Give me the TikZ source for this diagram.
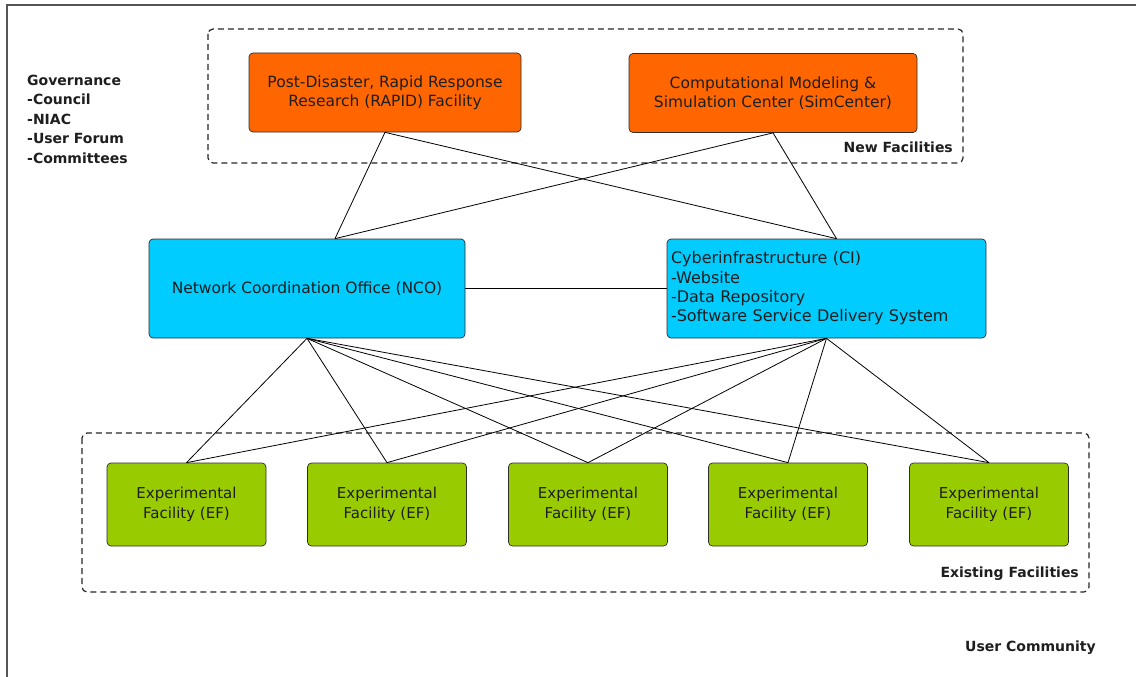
\documentclass[tikz,border=0pt]{standalone}
\usepackage{fontspec}
\setmainfont{DejaVu Sans}
\usetikzlibrary{positioning}
\definecolor{neworange}{RGB}{255, 102, 0}
\definecolor{hubcyan}{RGB}{0, 204, 255}
\definecolor{efgreen}{RGB}{153, 204, 0}
\definecolor{framegray}{RGB}{85, 85, 85}
\definecolor{edgegray}{RGB}{45, 45, 45}
\definecolor{inkgray}{RGB}{30, 30, 30}

\begin{document}
\begin{tikzpicture}[x=1pt, y=-1pt,
  facbox/.style={draw=edgegray, line width=0.7pt, rounded corners=4pt, inner sep=4pt,
    align=center, text=inkgray, font=\fontsize{15.5}{19.5}\selectfont},
  newfac/.style={facbox, fill=neworange, minimum height=79pt},
  hub/.style={facbox, fill=hubcyan, minimum height=99pt},
  expfac/.style={facbox, fill=efgreen, minimum width=159pt, minimum height=83pt,
    font=\fontsize{15}{20}\selectfont},
  groupbox/.style={draw=black!85, line width=1.2pt, dash pattern=on 6pt off 4pt, rounded corners=5pt},
  grouplabel/.style={font=\fontsize{14}{19.5}\selectfont\bfseries, text=inkgray, inner sep=0pt},
  link/.style={black, line width=0.8pt}]

  \useasboundingbox (0, 0) rectangle (1136, 677);

  % Outer frame (user community)
  \draw[framegray, line width=2pt] (7, 677) -- (7, 5) -- (1136, 5);

  % Governance
  \node[grouplabel, align=left, anchor=west] (gov) at (27, 119) {Governance\\-Council\\-NIAC\\-User Forum\\-Committees};

  % New facilities
  \draw[groupbox] (208, 29) rectangle (963, 163);
  \node[grouplabel, anchor=east] (newlbl) at (953, 147) {New Facilities};
  \node[newfac, minimum width=272pt] (rapid) at (385, 92.5) {Post-Disaster, Rapid Response\\Research (RAPID) Facility};
  \node[newfac, minimum width=288pt] (sim) at (773, 93) {Computational Modeling \&\\Simulation Center (SimCenter)};

  % Network hubs
  \node[hub, minimum width=316pt] (nco) at (307, 288.5) {Network Coordination Office (NCO)};
  \node[hub, align=left, text width=311pt, font=\fontsize{16}{19.3}\selectfont] (ci) at (826.5, 288.5) {Cyberinfrastructure (CI)\\-Website\\-Data Repository\\-Software Service Delivery System};

  % Existing facilities
  \draw[groupbox] (82, 433) rectangle (1089, 592);
  \node[grouplabel, anchor=east] (existlbl) at (1079, 574) {Existing Facilities};
  \node[expfac] (ef1) at (186.5, 504.5) {Experimental\\Facility (EF)};
  \node[expfac] (ef2) at (387, 504.5) {Experimental\\Facility (EF)};
  \node[expfac] (ef3) at (588, 504.5) {Experimental\\Facility (EF)};
  \node[expfac] (ef4) at (788, 504.5) {Experimental\\Facility (EF)};
  \node[expfac] (ef5) at (989, 504.5) {Experimental\\Facility (EF)};

  \node[grouplabel, anchor=east] (userlbl) at (1096, 648) {User Community};

  % Links from the new facilities
  \draw[link] (rapid.south) -- ([xshift=28pt]nco.north);
  \draw[link] (rapid.south) -- ([xshift=10pt]ci.north);
  \draw[link] (sim.south) -- ([xshift=28pt]nco.north);
  \draw[link] (sim.south) -- ([xshift=10pt]ci.north);

  % Hub to hub
  \draw[link] (nco.east) -- (ci.west);

  % NCO to experimental facilities
  \draw[link] (nco.south) -- (ef1.north);
  \draw[link] (nco.south) -- (ef2.north);
  \draw[link] (nco.south) -- (ef3.north);
  \draw[link] (nco.south) -- (ef4.north);
  \draw[link] (nco.south) -- (ef5.north);

  % CI to experimental facilities
  \draw[link] (ci.south) -- (ef1.north);
  \draw[link] (ci.south) -- (ef2.north);
  \draw[link] (ci.south) -- (ef3.north);
  \draw[link] (ci.south) -- (ef4.north);
  \draw[link] (ci.south) -- (ef5.north);
\end{tikzpicture}
\end{document}
